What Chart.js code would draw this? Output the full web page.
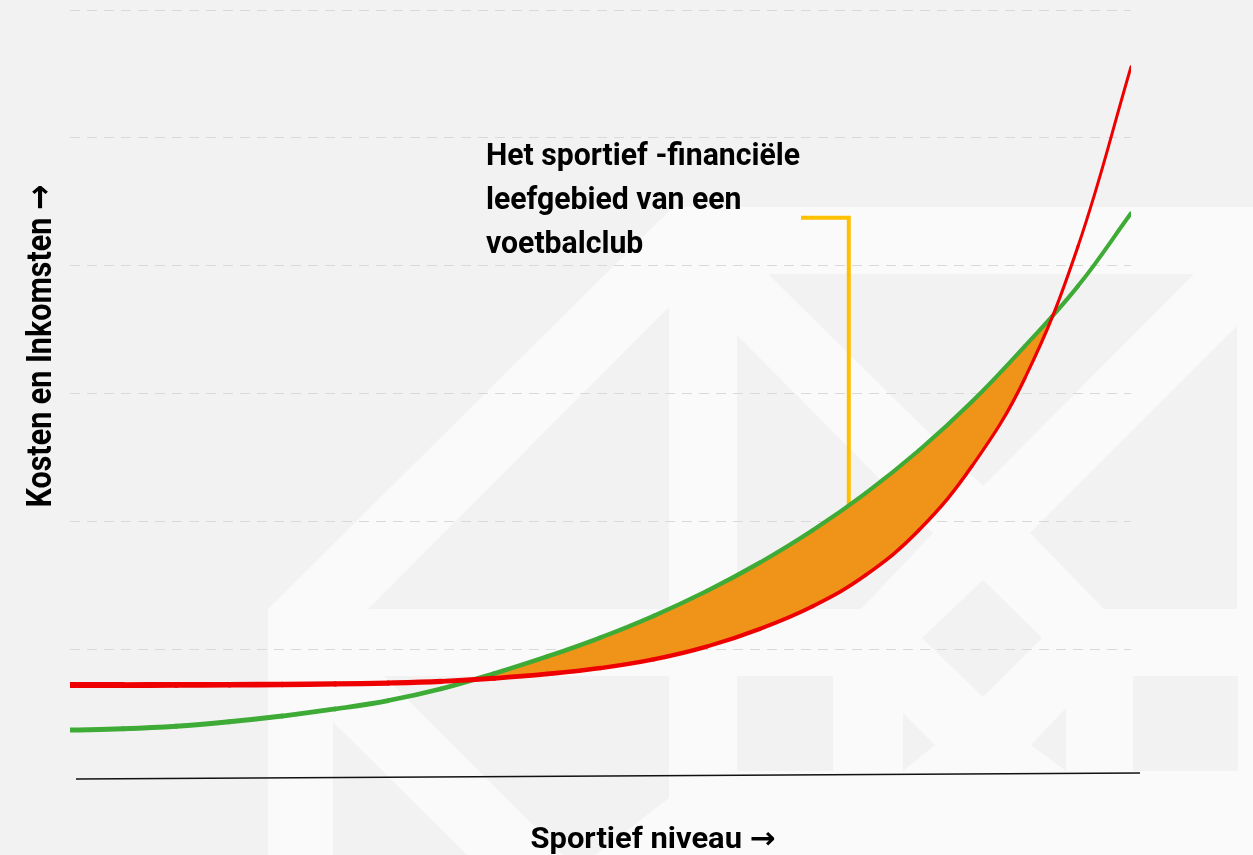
<!DOCTYPE html>
<html>
<head>
<meta charset="utf-8">
<script src="https://cdn.jsdelivr.net/npm/chart.js@4/dist/chart.umd.min.js"></script>
<style>
	body { margin: 0; background: #f2f2f2; }
	#myChart { display: block; }
</style>
</head>
<body>
<canvas id="myChart" width="1253" height="855"></canvas>
<script>
// sportief niveau (x) en bedragen (y)
var niveau = [0, 0.5, 1, 1.5, 2, 2.5, 3, 3.5, 4, 4.5, 5, 5.5, 6, 6.5, 7, 7.5, 8, 8.5, 9, 9.5, 10];
var inkomsten = [0.367, 0.377, 0.397, 0.432, 0.477, 0.532, 0.598, 0.69, 0.81, 0.943, 1.091, 1.26, 1.454, 1.676, 1.93, 2.221, 2.554, 2.935, 3.371, 3.84, 4.41];
var kosten = [0.719, 0.7193, 0.7203, 0.7218, 0.724, 0.728, 0.735, 0.748, 0.772, 0.806, 0.852, 0.92, 1.02, 1.158, 1.336, 1.58, 1.93, 2.43, 3.12, 4.15, 5.555];
var yTicks = [0, 1, 2, 3, 4, 5, 6];

// annotatie (in waarden van de assen)
var annotatieTekst = ['Het sportief -financiële', 'leefgebied van een', 'voetbalclub'];
var haakX = 7.34, haakLinks = 6.89, haakBoven = 4.375, haakOnder = 2.12;

var fontFam = 'Roboto, "DejaVu Sans", sans-serif';

function punten(ys) {
	return niveau.map(function(x, i){ return {x: x, y: ys[i]}; });
}

// lijn die naar rechts dunner wordt
function taps(begin, eind) {
	return function(s){ return begin + (eind - begin) * s.p0DataIndex / (niveau.length - 2); };
}

// smalle (condensed) tekst: horizontaal samendrukken tot gewenste breedte
function smalleTekst(c, tekst, x, y, size, breedte, align) {
	c.save();
	c.font = 'bold ' + size + 'px ' + fontFam;
	var w = c.measureText(tekst).width;
	c.translate(x, y);
	c.scale(breedte / w, 1);
	c.textAlign = align;
	c.fillText(tekst, 0, 0);
	c.restore();
}

// achtergrond met logo (watermerk)
var achtergrond = {
	id: 'achtergrond',
	beforeDraw: function(chart) {
		var c = chart.ctx;
		function poly(pts, kleur) {
			c.beginPath();
			c.moveTo(pts[0][0], pts[0][1]);
			for (var i = 1; i < pts.length; i++) c.lineTo(pts[i][0], pts[i][1]);
			c.closePath();
			c.fillStyle = kleur;
			c.fill();
		}
		c.save();
		c.fillStyle = '#f2f2f2';
		c.fillRect(0, 0, chart.width, chart.height);
		var wit = '#fafafa', grijs = '#f2f2f2';
		poly([[268,855],[268,609],[673,207],[1253,207],[1253,855]], wit);
		poly([[368,609],[669,307],[669,609]], grijs);
		poly([[768,274],[1194,274],[983,486]], grijs);
		poly([[737,335],[933,533],[861,609],[737,609]], grijs);
		poly([[1237,326],[1237,609],[1104,609],[1030,533]], grijs);
		poly([[983,580],[1042,638],[983,697],[922,638]], grijs);
		poly([[333,722],[333,855],[467,855]], grijs);
		poly([[384,676],[669,676],[669,798],[595,855],[563,855]], grijs);
		poly([[737,676],[833,676],[833,771],[737,771]], grijs);
		poly([[903,713],[935,745],[903,771]], grijs);
		poly([[1066,708],[1031,745],[1066,771]], grijs);
		poly([[1133,676],[1238,676],[1238,771],[1133,771]], grijs);
		c.restore();
	},
	beforeDatasetsDraw: function(chart) {
		// gele haak naar het gebied
		var c = chart.ctx, xs = chart.scales.x, ys = chart.scales.y;
		c.save();
		c.strokeStyle = '#ffc000';
		c.lineWidth = 4;
		c.beginPath();
		c.moveTo(xs.getPixelForValue(haakLinks), ys.getPixelForValue(haakBoven));
		c.lineTo(xs.getPixelForValue(haakX), ys.getPixelForValue(haakBoven));
		c.lineTo(xs.getPixelForValue(haakX), ys.getPixelForValue(haakOnder));
		c.stroke();
		c.restore();
	},
	afterDraw: function(chart) {
		var c = chart.ctx, area = chart.chartArea, ys = chart.scales.y;
		c.save();
		// x-as lijn
		var y0 = ys.getPixelForValue(0);
		c.strokeStyle = '#111';
		c.lineWidth = 1.5;
		c.beginPath();
		c.moveTo(area.left + 6, y0 + 2);
		c.lineTo(area.right + 9, y0 - 4);
		c.stroke();

		c.fillStyle = '#000';
		c.textBaseline = 'alphabetic';
		// annotatie tekst (zelfde compressie voor alle regels)
		c.font = 'bold 32px ' + fontFam;
		var f = 314 / c.measureText(annotatieTekst[0]).width;
		for (var i = 0; i < annotatieTekst.length; i++) {
			var w = c.measureText(annotatieTekst[i]).width * f;
			smalleTekst(c, annotatieTekst[i], 486, 165 + i * 44, 32, w, 'left');
		}
		// as titels
		smalleTekst(c, 'Sportief niveau \u2192', 653, 848, 30, 245, 'center');
		c.translate(51, 346);
		c.rotate(-Math.PI / 2);
		smalleTekst(c, 'Kosten en Inkomsten \u2192', 0, 0, 35, 323, 'center');
		c.restore();
	}
};

var onzichtbaar = 'rgba(0,0,0,0)';

var ctx = document.getElementById('myChart').getContext('2d');
var chart = new Chart(ctx, {
	type: 'line',
	data: {
		datasets: [{
			// zichtbare lijnen (index 0 wordt als laatste getekend)
			label: 'Kosten',
			data: punten(kosten),
			borderColor: '#ee0000',
			borderWidth: 6,
			borderCapStyle: 'round',
			segment: { borderWidth: taps(6, 3) },
			pointRadius: 0,
			fill: false,
			tension: 0.4
		}, {
			label: 'Inkomsten',
			data: punten(inkomsten),
			borderColor: '#3dab35',
			borderWidth: 5,
			borderCapStyle: 'round',
			segment: { borderWidth: taps(5, 4) },
			pointRadius: 0,
			fill: false,
			tension: 0.4
		}, {
			// oranje gebied tussen inkomsten en kosten
			label: 'Leefgebied',
			data: punten(inkomsten),
			borderColor: onzichtbaar,
			borderWidth: 1,
			pointRadius: 0,
			fill: { target: 3, above: '#f09419', below: onzichtbaar },
			tension: 0.4
		}, {
			label: 'Kosten (rand)',
			data: punten(kosten),
			borderColor: onzichtbaar,
			borderWidth: 1,
			pointRadius: 0,
			fill: false,
			tension: 0.4
		}]
	},
	options: {
		responsive: false,
		animation: false,
		layout: { padding: { left: 70, right: 122, top: 10, bottom: 78 } },
		plugins: {
			legend: { display: false },
			tooltip: { enabled: false }
		},
		scales: {
			x: { type: 'linear', min: 0, max: 10, display: false },
			y: {
				min: yTicks[0],
				max: yTicks[yTicks.length - 1],
				afterFit: function(s){ s.width = 0; },
				afterBuildTicks: function(s){ s.ticks = yTicks.map(function(v){ return {value: v}; }); },
				ticks: { display: false },
				border: { display: false, dash: [10, 7] },
				grid: {
					drawTicks: false,
					lineWidth: 1,
					color: function(g){ return g.tick && g.tick.value === 0 ? onzichtbaar : '#d9d9d9'; }
				}
			}
		}
	},
	plugins: [achtergrond]
});
</script>
</body>
</html>
